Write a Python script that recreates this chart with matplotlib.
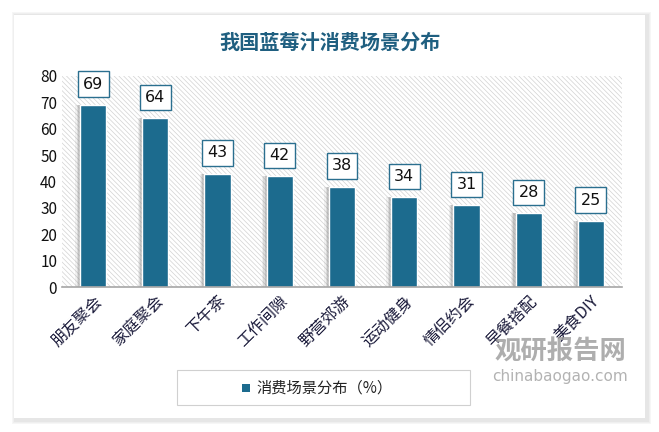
import matplotlib
matplotlib.use("Agg")
import matplotlib.pyplot as plt
from matplotlib.patches import Rectangle
from matplotlib.transforms import ScaledTranslation

plt.rcParams['font.family'] = ['Noto Sans CJK SC', 'DejaVu Sans']
plt.rcParams['hatch.linewidth'] = 0.5
plt.rcParams['hatch.color'] = '#d2d2d2'

CATEGORIES = ['朋友聚会', '家庭聚会', '下午茶', '工作间隙', '野营郊游',
              '运动健身', '情侣约会', '早餐搭配', '美食DIY']
VALUES = [69, 64, 43, 42, 38, 34, 31, 28, 25]
Y_TICKS = [0, 10, 20, 30, 40, 50, 60, 70, 80]
TITLE = '我国蓝莓汁消费场景分布'
SERIES = '消费场景分布（%）'

BAR = '#1c6b8e'
W, H = 659, 432

fig = plt.figure(figsize=(W / 100, H / 100), dpi=100, facecolor='white')

# card with soft shadow
for i, c in enumerate(['#f6f6f6', '#efefef', '#e6e6e6']):
    d = 4 - i
    fig.patches.append(Rectangle(((14 - d + 2) / W, 1 - (419 + d + 1) / H),
                                 (631 + 2 * d) / W, (404 + 2 * d) / H,
                                 transform=fig.transFigure, facecolor=c,
                                 edgecolor='none', zorder=-5))
fig.patches.append(Rectangle((14 / W, 1 - 418 / H), 631 / W, 403 / H,
                             transform=fig.transFigure, facecolor='white',
                             edgecolor='none', zorder=-4))

fig.text(330 / W, 1 - 42 / H, TITLE, ha='center', va='center', fontsize=14.5,
         fontweight='bold', color='#1f5f80')

ax = fig.add_axes([62 / W, 1 - 287 / H, 560 / W, 211 / H])
ax.set_zorder(1)
ax.patch.set_alpha(0)
ax.add_patch(Rectangle((-0.5, 0), 9, 80, facecolor='white',
                       hatch='\\\\\\\\\\\\\\', edgecolor='#d2d2d2',
                       linewidth=0, zorder=0))

x = list(range(len(CATEGORIES)))
# soft shadows on the left of bars
for k, a in enumerate([0.12, 0.2, 0.3]):
    off = 0.075 - k * 0.02
    ax.bar([i - off for i in x], VALUES, width=0.42, color='#8c8c8c',
           alpha=a, linewidth=0, zorder=1)
ax.bar(x, VALUES, width=0.42, color=BAR, edgecolor='white', linewidth=1.0,
       zorder=2)

for i, v in zip(x, VALUES):
    ax.annotate(str(v), (i, v), xytext=(0, 15), textcoords='offset points',
                ha='center', va='center', fontsize=11.5, color='#111111',
                family=['DejaVu Sans'],
                bbox=dict(boxstyle='square,pad=0.33', facecolor='white',
                          edgecolor='#2a6f8f', linewidth=1.0), zorder=3)

ax.set_xlim(-0.5, 8.5)
ax.set_ylim(0, 80)
ax.set_yticks(Y_TICKS)
ax.set_yticklabels([str(t) for t in Y_TICKS], fontsize=11, color='#111111')
ax.set_xticks(x)
ax.set_xticklabels(CATEGORIES, rotation=45, ha='right', rotation_mode='anchor',
                   fontsize=11.5, color='#1a1a3a')
shift = ScaledTranslation(15 / 100, 0, fig.dpi_scale_trans)
for lab in ax.get_xticklabels():
    lab.set_transform(lab.get_transform() + shift)
ax.tick_params(length=0)
ax.tick_params(axis='x', pad=4)
for s in ['left', 'right', 'top']:
    ax.spines[s].set_visible(False)
ax.spines['bottom'].set_color('#a6a6a6')
ax.spines['bottom'].set_linewidth(1.2)

# watermark
fig.text(560 / W, 1 - 352 / H, '观研报告网', ha='center', va='center',
         fontsize=19, fontweight='bold', color='#9a9a9a', alpha=0.8)
fig.text(560 / W, 1 - 377 / H, 'chinabaogao.com', ha='center', va='center',
         fontsize=11, color='#a0a0a0', alpha=0.8, family=['DejaVu Sans'])

# legend box
fig.patches.append(Rectangle((177 / W, 1 - 405 / H), 293 / W, 35 / H,
                             transform=fig.transFigure, facecolor='white',
                             edgecolor='#d0d0d0', linewidth=0.8, zorder=1))
fig.patches.append(Rectangle((242 / W, 1 - 392 / H), 8 / W, 8 / H,
                             transform=fig.transFigure, facecolor=BAR,
                             edgecolor='none', zorder=2))
fig.text(256 / W, 1 - 388 / H, SERIES, ha='left', va='center', fontsize=11,
         color='#222222')

fig.savefig('out.png', dpi=100, facecolor=fig.get_facecolor())
